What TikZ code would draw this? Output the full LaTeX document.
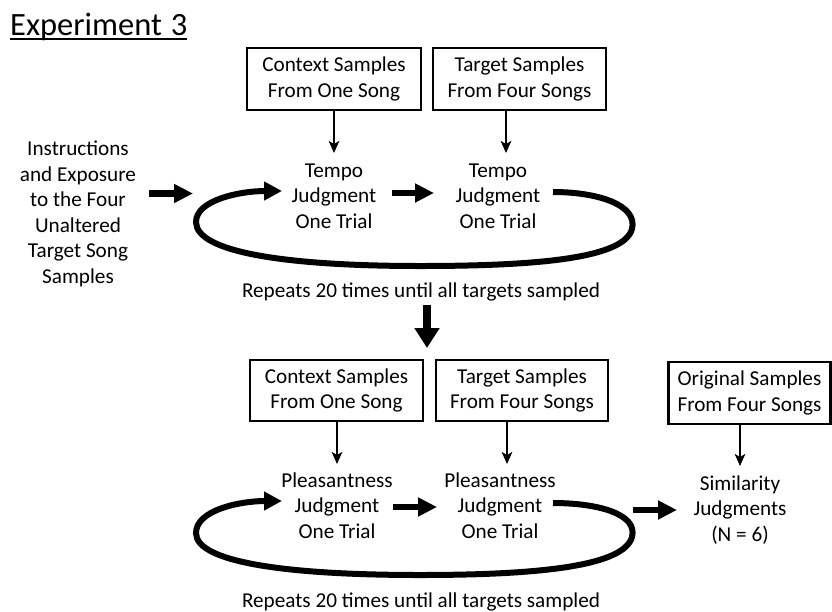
\documentclass[tikz,border=0pt]{standalone}
\usepackage{fontspec}
\setmainfont{Carlito}
\usetikzlibrary{arrows.meta}
\newcommand{\bodyfnt}{\fontsize{21.2}{25.5}\selectfont}
\tikzset{
  boxnode/.style={draw, line width=2.4pt, inner sep=0pt, align=center, font=\bodyfnt},
  txt/.style={align=center, inner sep=0pt, font=\bodyfnt, anchor=base},
  thinarrow/.style={line width=2.2pt, -{Stealth[length=12pt,width=10.5pt,inset=3pt]}},
  thickarrow/.style={line width=6.5pt, -{Triangle[length=19pt,width=18pt]}},
  looparrow/.style={line width=6pt, -{Triangle[length=18pt,width=18pt]}},
  bigarrow/.style={line width=8pt, -{Triangle[length=20pt,width=24pt]}}
}
\begin{document}
\begin{tikzpicture}[x=1pt,y=-1pt]
\useasboundingbox (0,0) rectangle (832,611);
% title
\node[anchor=base west, inner sep=0pt, font=\fontsize{32.5}{38}\selectfont] (title) at (10,35) {Experiment\hspace{1.5pt} 3};
\draw[line width=1.9pt] ([yshift=-4pt]title.base west) -- ([yshift=-4pt]title.base east);

% top section (multi-line text nodes: base = last line's baseline)
\node[boxnode, minimum width=174pt, minimum height=62pt] (ctx1) at (334,79) {Context Samples\\From One Song};
\node[boxnode, minimum width=173pt, minimum height=62pt] (tgt1) at (519.5,79) {Target Samples\\From Four Songs};
\node[txt] (instr) at (78,283) {Instructions\\and Exposure\\to the Four\\Unaltered\\Target Song\\Samples};
\node[txt] (tempo1) at (334,228) {Tempo\\Judgment\\One Trial};
\node[txt] (tempo2) at (498,228) {Tempo\\Judgment\\One Trial};
\node[txt] (rep1) at (421,297) {Repeats 20 times until all targets sampled};

\coordinate (c1) at (334,153);
\coordinate (c2) at (506,153);
\draw[thinarrow] (ctx1.south -| c1) -- (c1);
\draw[thinarrow] (tgt1.south -| c2) -- (c2);
\coordinate (i1) at (149,193.5);
\coordinate (i2) at (193,193.5);
\draw[thickarrow] (i1) -- (i2);
\coordinate (j1) at (392,193);
\coordinate (j2) at (434,193);
\draw[thickarrow] (j1) -- (j2);
\coordinate (l1s) at (553,192);
\coordinate (l1e) at (282,191);
\draw[looparrow] (l1s) .. controls (598,192) and (638,205) .. (632,229)
  .. controls (624,258) and (540,266) .. (420,266)
  .. controls (285,266) and (196,252) .. (196,222)
  .. controls (196,200) and (240,191) .. (l1e);

% middle arrow
\coordinate (m1) at (427,305);
\coordinate (m2) at (427,348);
\draw[bigarrow] (m1) -- (m2);

% bottom section
\node[boxnode, minimum width=173pt, minimum height=61pt] (ctx2) at (336.5,390.5) {Context Samples\\From One Song};
\node[boxnode, minimum width=172pt, minimum height=61pt] (tgt2) at (522,390.5) {Target Samples\\From Four Songs};
\node[boxnode, minimum width=162pt, minimum height=62pt] (orig) at (749.5,393) {Original Samples\\From Four Songs};
\node[txt] (pl1) at (337,538) {Pleasantness\\Judgment\\One Trial};
\node[txt] (pl2) at (500,538) {Pleasantness\\Judgment\\One Trial};
\node[txt] (sim) at (740,541) {Similarity\\Judgments\\(N = 6)};
\node[txt] (rep2) at (421,607) {Repeats 20 times until all targets sampled};

\coordinate (d1) at (337,464);
\coordinate (d2) at (507,464);
\coordinate (d3) at (740,466);
\draw[thinarrow] (ctx2.south -| d1) -- (d1);
\draw[thinarrow] (tgt2.south -| d2) -- (d2);
\draw[thinarrow] (orig.south -| d3) -- (d3);
\coordinate (k1) at (393,507);
\coordinate (k2) at (437,507);
\draw[thickarrow] (k1) -- (k2);
\coordinate (s1) at (633,510);
\coordinate (s2) at (677,510);
\draw[thickarrow] (s1) -- (s2);
\coordinate (l2s) at (553,503);
\coordinate (l2e) at (282,501);
\draw[looparrow] (l2s) .. controls (598,503) and (638,514) .. (632,537)
  .. controls (624,566) and (540,575) .. (420,575)
  .. controls (285,575) and (196,562) .. (196,533)
  .. controls (196,510) and (240,501) .. (l2e);
\end{tikzpicture}
\end{document}
